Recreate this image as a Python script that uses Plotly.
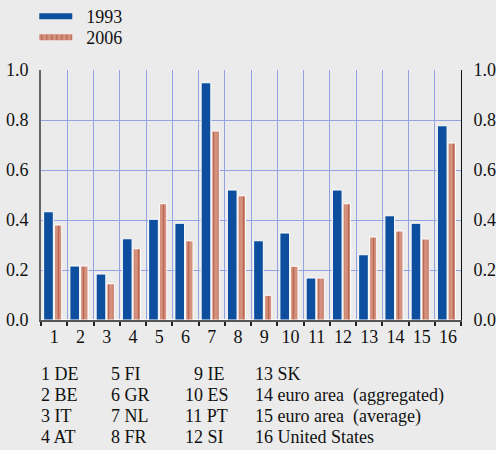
import plotly.graph_objects as go

categories = [str(i) for i in range(1, 17)]
values_1993 = [0.433, 0.216, 0.184, 0.325, 0.403, 0.387, 0.949, 0.520,
               0.317, 0.348, 0.168, 0.520, 0.261, 0.417, 0.387, 0.777]
values_2006 = [0.380, 0.216, 0.145, 0.285, 0.465, 0.317, 0.756, 0.497,
               0.099, 0.215, 0.168, 0.465, 0.332, 0.356, 0.324, 0.708]
series_names = ["1993", "2006"]
y_ticks = [0.0, 0.2, 0.4, 0.6, 0.8, 1.0]
key_columns = [
    ["1 DE", "2 BE", "3 IT", "4 AT"],
    ["5 FI", "6 GR", "7 NL", "8 FR"],
    ["\u00a0\u00a09 IE", "10 ES", "11 PT", "12 SI"],
    ["13 SK", "14 euro area  (aggregated)", "15 euro area  (average)", "16 United States"],
]

FONT = "Liberation Serif"
FS = 18
BG = "#ebebeb"
GRID = "#93a3e0"
BLUE = "#0d4f9e"
SALMON = "#d4927e"
DARKRED = "#a33a2a"
INK = "#111111"

PAT = dict(shape="|", fgcolor=DARKRED, bgcolor=SALMON, size=5, solidity=0.3)

fig = go.Figure()
fig.add_trace(go.Bar(
    x=categories, y=values_1993, name=series_names[0], showlegend=False,
    offset=-0.40, width=0.37,
    marker=dict(color=BLUE, line=dict(color="white", width=1)),
))
fig.add_trace(go.Bar(
    x=categories, y=values_2006, name=series_names[1], showlegend=False,
    offset=0.01, width=0.28,
    marker=dict(color=SALMON, line=dict(color="white", width=1), pattern=PAT),
))
# legend entries with wide swatches, one legend box each
fig.add_trace(go.Scatter(x=[None], y=[None], name="\u00a0\u00a0" + series_names[0],
                         mode="none", fill="toself", fillcolor=BLUE, legend="legend"))
fig.add_trace(go.Scatter(x=[None], y=[None], name="\u00a0\u00a0" + series_names[1],
                         mode="none", fill="toself", fillcolor=SALMON, fillpattern=PAT,
                         legend="legend2"))
# invisible trace for the right axis
fig.add_trace(go.Scatter(x=categories, y=values_1993, yaxis="y2",
                         mode="markers", marker=dict(opacity=0),
                         showlegend=False, hoverinfo="skip"))

legend_common = dict(xanchor="left", yanchor="middle", bgcolor="rgba(0,0,0,0)",
                     font=dict(size=FS, family=FONT, color=INK), itemwidth=33)

fig.update_layout(
    width=496, height=450,
    paper_bgcolor=BG, plot_bgcolor=BG,
    margin=dict(l=41, r=35, t=70, b=130, autoexpand=False),
    font=dict(family=FONT, size=FS, color=INK),
    barmode="overlay",
    showlegend=True,
    legend=dict(x=-0.016, y=1 + (70 - 16.5) / 250, **legend_common),
    legend2=dict(x=-0.016, y=1 + (70 - 37.5) / 250, **legend_common),
    xaxis=dict(
        type="category", tickson="boundaries", tickangle=0,
        showgrid=True, gridcolor=GRID, gridwidth=1,
        showline=True, linecolor="#555", linewidth=1.5,
        ticks="outside", ticklen=4, tickcolor="#222", tickwidth=1.5,
        tickfont=dict(size=FS, family=FONT, color=INK), range=[-0.5, 15.5],
        automargin=False,
    ),
    yaxis=dict(
        range=[0, 1.0], tickvals=y_ticks, tickformat=".1f",
        showgrid=True, gridcolor=GRID, gridwidth=1,
        zeroline=True, zerolinecolor="white", zerolinewidth=2,
        showline=True, linecolor="#666", linewidth=2,
        ticks="", tickfont=dict(size=FS, family=FONT, color=INK),
        ticklabelstandoff=7, automargin=False,
    ),
    yaxis2=dict(
        range=[0, 1.0], tickvals=y_ticks, tickformat=".1f",
        overlaying="y", side="right", showgrid=False, zeroline=False,
        showline=True, linecolor="#111", linewidth=1,
        ticks="", tickfont=dict(size=FS, family=FONT, color=INK),
        ticklabelstandoff=8, automargin=False,
    ),
)

col_x = [39, 109, 183, 253]
row_y = [374, 395, 416, 437]
for cx, col in zip(col_x, key_columns):
    for ry, txt in zip(row_y, col):
        fig.add_annotation(
            x=(cx - 41) / 420, y=(320 - ry) / 250, xref="paper", yref="paper",
            text=txt, showarrow=False, align="left",
            xanchor="left", yanchor="middle",
            font=dict(size=FS, family=FONT, color=INK),
        )

fig.write_html(
    "out.html",
    config={"displayModeBar": False},
    post_script="document.body.style.margin='0';document.body.style.background='#ebebeb';",
)
